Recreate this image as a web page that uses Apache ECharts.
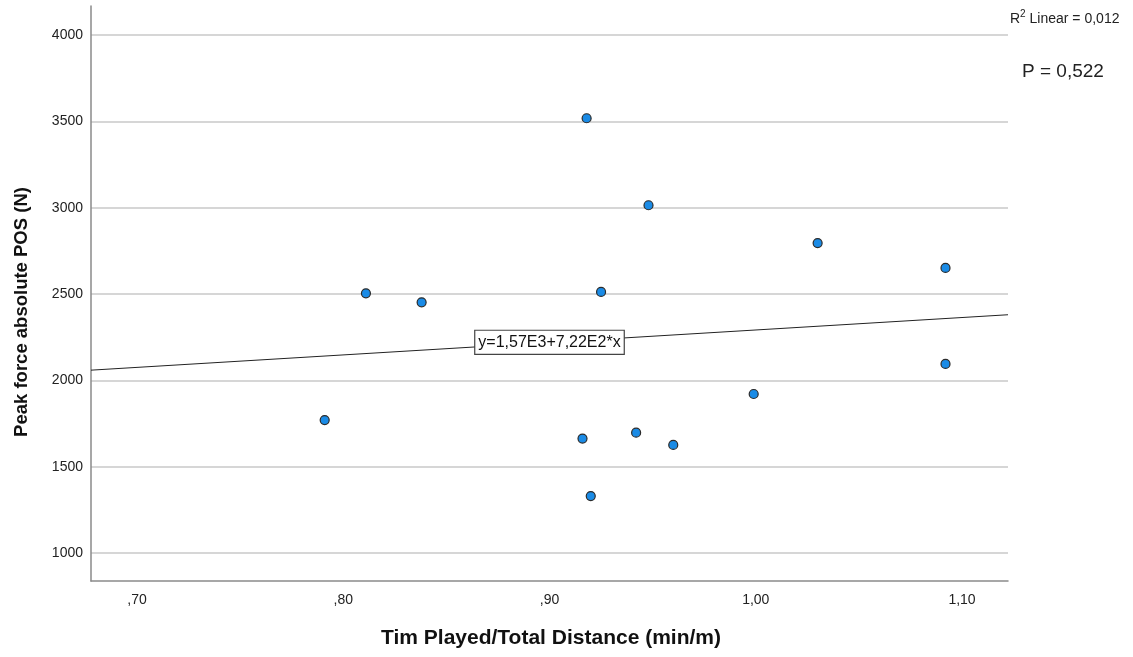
<!DOCTYPE html>
<html>
<head>
    <meta charset="utf-8">
    <title>Peak force vs Tim Played/Total Distance</title>
    <script src="https://cdn.jsdelivr.net/npm/echarts@6/dist/echarts.min.js"></script>
    <style>
        html, body { margin: 0; padding: 0; background: #fff; }
        #chart { width: 1133px; height: 657px; }
    </style>
</head>
<body>
<div id="chart"></div>
<script>
    // punkty pomiarowe
    var timePerDistance = [0.791, 0.811, 0.838, 0.918, 0.948, 0.916, 0.942, 0.960, 0.920, 0.925, 0.999, 1.030, 1.092, 1.092];
    var peakForce = [1770, 2504, 2452, 3518, 3014, 1663, 1697, 1626, 1330, 2512, 1921, 2795, 2651, 2095];

    // linia regresji - końce przy krawędziach osi
    var fitX = [0.6777, 1.1223];
    var fitY = [2059, 2380];

    var xTicks = [0.70, 0.80, 0.90, 1.00, 1.10];
    var yTicks = [1000, 1500, 2000, 2500, 3000, 3500, 4000];

    var fitLabel = 'y=1,57E3+7,22E2*x';
    var r2Text = '0,012';
    var pText = 'P = 0,522';

    var points = timePerDistance.map(function (x, i) { return [x, peakForce[i]]; });
    var fitLine = fitX.map(function (x, i) { return [x, fitY[i]]; });

    function fmtX(v) {
        var s = v.toFixed(2).replace('.', ',');
        return s.charAt(0) === '0' ? s.substring(1) : s;
    }

    var myChart = echarts.init(document.getElementById('chart'));
    myChart.setOption({
        animation: false,
        textStyle: { fontFamily: 'Liberation Sans, Arial, sans-serif' },
        grid: { left: 91, right: 125, top: 6, bottom: 76, containLabel: false },
        xAxis: {
            type: 'value',
            min: fitX[0],
            max: fitX[1],
            axisLine: { show: true, lineStyle: { color: '#8a8a8a', width: 1.5 } },
            axisTick: { show: false, customValues: xTicks },
            splitLine: { show: false },
            axisLabel: {
                customValues: xTicks,
                formatter: fmtX,
                color: '#222',
                fontSize: 14,
                margin: 12
            }
        },
        yAxis: {
            type: 'value',
            min: 838,
            max: 4168,
            axisLine: { show: true, lineStyle: { color: '#8a8a8a', width: 1.5 } },
            axisTick: { show: false, customValues: yTicks },
            splitLine: { show: true, lineStyle: { color: '#c8c8c8', width: 1.5 } },
            axisLabel: {
                customValues: yTicks,
                formatter: function (v) { return String(v); },
                color: '#222',
                fontSize: 14,
                margin: 8
            }
        },
        series: [
            {
                type: 'line',
                data: fitLine,
                symbol: 'none',
                silent: true,
                lineStyle: { color: '#222', width: 1 },
                markPoint: {
                    symbol: 'rect',
                    symbolSize: 0,
                    data: [{ coord: [0.9, 2220] }],
                    label: {
                        show: true,
                        formatter: fitLabel,
                        position: 'inside',
                        color: '#111',
                        fontSize: 16,
                        backgroundColor: '#fff',
                        borderColor: '#444',
                        borderWidth: 1.2,
                        padding: [4, 3, 3, 3]
                    }
                }
            },
            {
                type: 'scatter',
                data: points,
                symbol: 'circle',
                symbolSize: 9,
                itemStyle: { color: '#1a8be6', borderColor: '#2b2b2b', borderWidth: 1.2, opacity: 1 }
            }
        ],
        graphic: [
            {
                type: 'text',
                left: 1010, top: 9,
                style: {
                    text: '{a|R}{s|2}{a| Linear = ' + r2Text + '}',
                    rich: {
                        a: { fontSize: 14, fill: '#222', fontFamily: 'Liberation Sans', verticalAlign: 'bottom' },
                        s: { fontSize: 10, fill: '#222', fontFamily: 'Liberation Sans', verticalAlign: 'top', padding: [0, 0, 7, 0] }
                    }
                }
            },
            {
                type: 'text',
                left: 1022, top: 62,
                style: { text: pText, fontSize: 19, fill: '#222', fontFamily: 'Liberation Sans' }
            },
            {
                type: 'text',
                x: 22, y: 312,
                rotation: Math.PI / 2,
                style: {
                    text: 'Peak force absolute POS (N)',
                    fontSize: 18.5, fontWeight: 'bold', fill: '#111',
                    fontFamily: 'Liberation Sans',
                    align: 'center', verticalAlign: 'middle'
                }
            },
            {
                type: 'text',
                x: 551, y: 638,
                style: {
                    text: 'Tim Played/Total Distance (min/m)',
                    fontSize: 21, fontWeight: 'bold', fill: '#111',
                    fontFamily: 'Liberation Sans',
                    align: 'center', verticalAlign: 'middle'
                }
            }
        ]
    });
</script>
</html>
